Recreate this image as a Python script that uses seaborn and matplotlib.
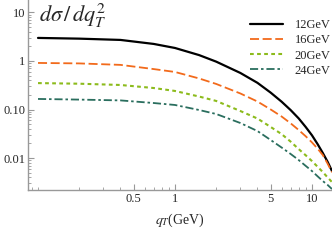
import numpy as np
import pandas as pd
import matplotlib
matplotlib.use('Agg')
import matplotlib.pyplot as plt
from matplotlib.ticker import FixedLocator, LogLocator, NullFormatter
import seaborn as sns

qT = [0.1, 0.2, 0.4, 0.7, 1, 1.5, 2, 3, 4, 5, 6, 7, 8, 9, 10, 11, 12, 13, 14]
xs_12 = [2.98, 2.88, 2.71, 2.24, 1.85, 1.32, 0.967, 0.566, 0.354, 0.222, 0.145, 0.0968,
         0.0655, 0.0436, 0.0294, 0.0193, 0.0127, 0.0084, 0.0054]
xs_16 = [0.91, 0.89, 0.83, 0.68, 0.593, 0.436, 0.336, 0.214, 0.146, 0.100, 0.0718, 0.0517,
         0.0378, 0.0281, 0.0210, 0.0156, 0.0115, 0.0077, 0.0051]
xs_20 = [0.35, 0.34, 0.32, 0.277, 0.241, 0.185, 0.150, 0.0931, 0.0652, 0.0436, 0.0312, 0.0217,
         0.0153, 0.0114, 0.00867, 0.0066, 0.00515, 0.0040, 0.0032]
xs_24 = [0.165, 0.16, 0.154, 0.136, 0.124, 0.0977, 0.0808, 0.0527, 0.0360, 0.0235, 0.0165, 0.0121,
         0.0091, 0.0069, 0.0054, 0.0042, 0.00336, 0.0028, 0.0023]
labels = ["12GeV", "16GeV", "20GeV", "24GeV"]

colors = ["black", "#f26a1b", "#8cbb1c", "#2a6e5e"]
styles = ["-", (0, (5, 2)), (0, (1.8, 1.6)), (0, (4.5, 1.6, 1.4, 1.6))]
widths = [1.6, 1.3, 1.5, 1.3]

sns.set_style("ticks")
plt.rcParams['font.family'] = ['Liberation Serif', 'DejaVu Serif']
plt.rcParams['mathtext.fontset'] = 'stix'

fig = plt.figure(figsize=(3.32, 2.4), dpi=100)
ax = fig.add_axes([28 / 332, 50 / 240, 304 / 332, 190 / 240])

for vals, lab, c, ls, lw in zip([xs_12, xs_16, xs_20, xs_24], labels, colors, styles, widths):
    df = pd.DataFrame({"qT": qT, "val": vals})
    sns.lineplot(data=df, x="qT", y="val", color=c, linestyle=ls, linewidth=lw, label=lab, ax=ax)

ax.set_xscale("log")
ax.set_yscale("log")
ax.set_xlim(0.0845, 14)
ax.set_ylim(0.0022, 18)

ax.xaxis.set_major_locator(FixedLocator([0.5, 1, 5, 10]))
ax.set_xticklabels(["0.5", "1", "5", "10"])
ax.xaxis.set_minor_locator(LogLocator(base=10, subs=np.arange(1, 10) * 1.0, numticks=20))
ax.xaxis.set_minor_formatter(NullFormatter())
ax.yaxis.set_major_locator(FixedLocator([0.01, 0.1, 1, 10]))
ax.set_yticklabels(["0.01", "0.10", "1", "10"])
ax.yaxis.set_minor_locator(LogLocator(base=10, subs=np.arange(2, 10) * 1.0, numticks=20))
ax.yaxis.set_minor_formatter(NullFormatter())

for s in ["top", "right"]:
    ax.spines[s].set_visible(False)
for s in ["left", "bottom"]:
    ax.spines[s].set_color("#999999")
    ax.spines[s].set_linewidth(1.0)
ax.tick_params(which="both", direction="in", color="#999999", labelsize=9, pad=2)
ax.tick_params(which="major", length=4, width=0.8)
ax.tick_params(which="minor", length=2, width=0.6)

ax.set_xlabel(r"$q_T$(GeV)", fontsize=10, labelpad=5)
ax.set_ylabel("")
ax.text(0.036, 0.99, r"$d\sigma\,/\,dq_T^2$", transform=ax.transAxes, fontsize=16,
        ha="left", va="top")

ax.legend(loc="upper right", bbox_to_anchor=(1.036, 0.964), frameon=False, fontsize=9,
          handlelength=2.7, handletextpad=0.9, labelspacing=0.25, borderaxespad=0.6)

fig.savefig("out.png", dpi=100)
